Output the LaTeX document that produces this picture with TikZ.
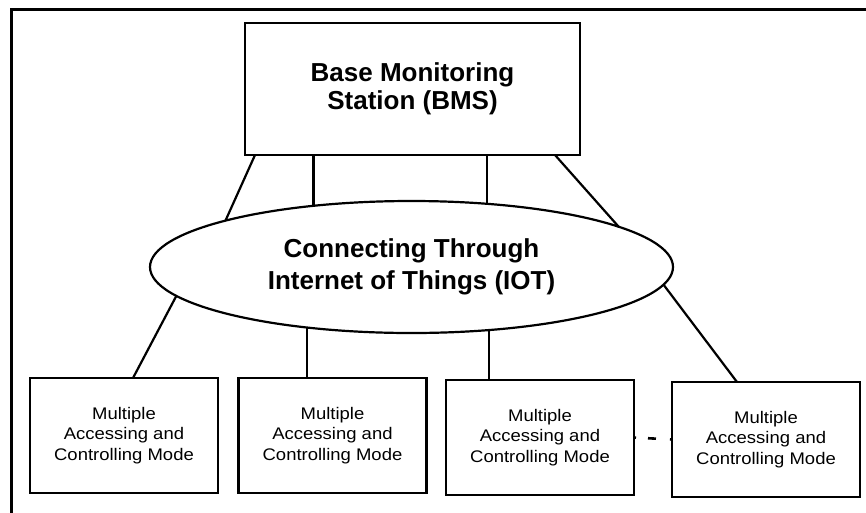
\documentclass[tikz,border=0pt]{standalone}
\usepackage{fontspec}
\setmainfont{Liberation Sans}
\newfontfamily\smallfont[FakeStretch=1.1]{Liberation Sans}
\usetikzlibrary{shapes.geometric,calc}
\tikzset{
  boxstyle/.style={draw, line width=2.6pt, rectangle, inner sep=0pt, outer sep=0pt, align=center},
  bigtext/.style={font=\bfseries\fontsize{26}{28.4}\selectfont},
  iottext/.style={font=\bfseries\fontsize{26}{32}\selectfont},
  modebox/.style={boxstyle, minimum width=188pt, minimum height=115pt,
     font=\smallfont\fontsize{16.8}{20.5}\selectfont},
  link/.style={line width=2.2pt},
}
\begin{document}
\begin{tikzpicture}[x=1pt,y=-1pt]
\useasboundingbox (0,0) rectangle (866,512);
\fill[white] (0,0) rectangle (866,512);
% outer frame (only top and left visible)
\draw[line width=3pt] (11,530) -- (11,9) -- (880,9);

\node[boxstyle, bigtext, minimum width=335pt, minimum height=132pt] (bms) at (412.5,89)
  {Base Monitoring\\Station (BMS)};
\node[draw, ellipse, line width=2.2pt, inner sep=0pt, outer sep=0pt, align=center, iottext,
      minimum width=523pt, minimum height=132pt] (iot) at (411.5,267)
  {Connecting Through\\Internet of Things (IOT)};

\node[modebox] (b1) at (124,435.5) {Multiple\\Accessing and\\Controlling Mode};
\node[modebox] (b2) at (332.5,435.5) {Multiple\\Accessing and\\Controlling Mode};
\node[modebox] (b3) at (540,437.5) {Multiple\\Accessing and\\Controlling Mode};
\node[modebox] (b4) at (766,439.5) {Multiple\\Accessing and\\Controlling Mode};

% BMS to IOT
\draw[link] ($(bms.south west)+(10,0)$) -- (iot.166.8);
\draw[link] (iot.148.5 |- bms.south) -- (iot.148.5);
\draw[link] (iot.40.8 |- bms.south) -- (iot.40.8);
\draw[link] ($(bms.south east)+(-25,0)$) -- (iot.11.5);

% IOT to boxes
\draw[link] (iot.187.2) -- ($(b1.north west)+(103,0)$);
\draw[link] (iot.210.1) -- (iot.210.1 |- b2.north);
\draw[link] (iot.-39.5) -- (iot.-39.5 |- b3.north);
\draw[link] (iot.-4.5) -- ($(b4.north west)+(65,0)$);

% dashed link between third and fourth box
\draw[line width=2.6pt, dash pattern=on 2pt off 12pt on 8pt off 14pt on 2pt] (b3.east) -- (b4.west);
\end{tikzpicture}
\end{document}
